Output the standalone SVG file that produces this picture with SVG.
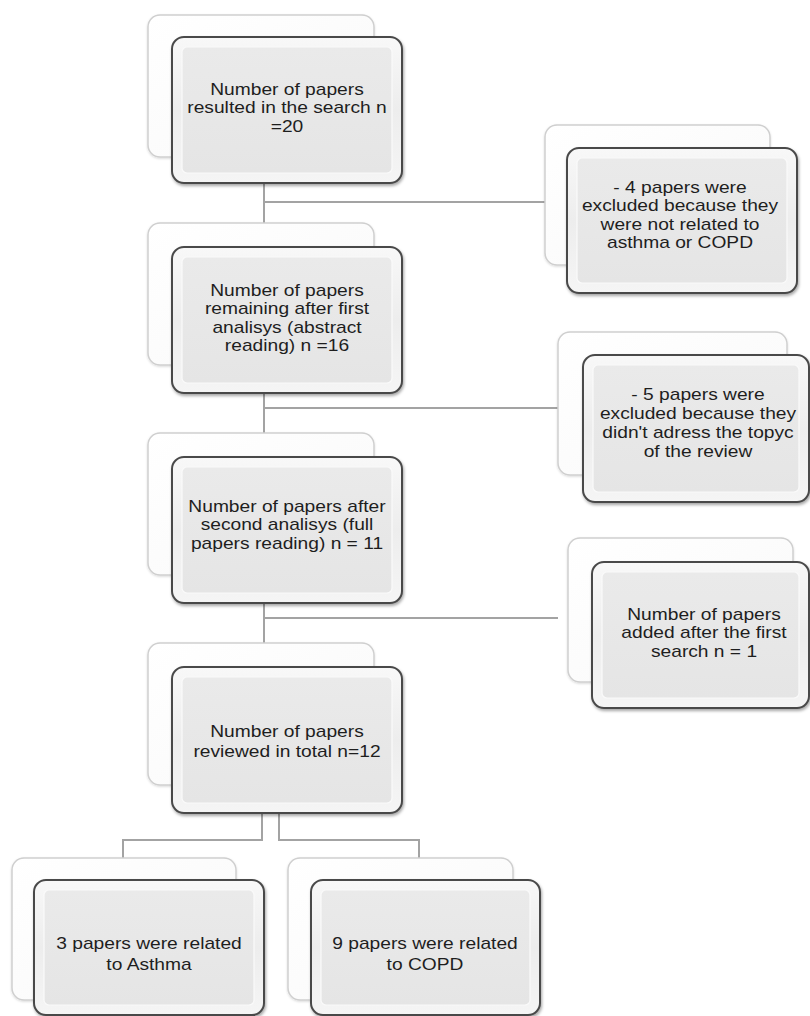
<svg xmlns="http://www.w3.org/2000/svg" width="810" height="1016" viewBox="0 0 810 1016">
<defs>
<linearGradient id="gBack" x1="0" y1="0" x2="1" y2="1">
<stop offset="0" stop-color="#ffffff"/>
<stop offset="0.6" stop-color="#fbfbfb"/>
<stop offset="1" stop-color="#e9e9e9"/>
</linearGradient>
<linearGradient id="gFront" x1="0" y1="0" x2="0" y2="1">
<stop offset="0" stop-color="#f8f8f8"/>
<stop offset="0.5" stop-color="#ededed"/>
<stop offset="1" stop-color="#f5f5f5"/>
</linearGradient>
<linearGradient id="gInner" x1="0" y1="0" x2="0" y2="1">
<stop offset="0" stop-color="#eaeaea"/>
<stop offset="1" stop-color="#e5e5e5"/>
</linearGradient>
<filter id="sh" x="-10%" y="-10%" width="120%" height="125%">
<feDropShadow dx="1" dy="2" stdDeviation="1.5" flood-color="#000" flood-opacity="0.35"/>
</filter>
<filter id="shb" x="-10%" y="-10%" width="120%" height="125%">
<feDropShadow dx="0" dy="1" stdDeviation="1" flood-color="#000" flood-opacity="0.15"/>
</filter>
</defs>
<style>
.back{fill:url(#gBack);stroke:#cfcfcf;stroke-width:1.5;filter:url(#shb)}
.front{fill:url(#gFront);stroke:#4a4a4a;stroke-width:2;filter:url(#sh)}
.inner{fill:url(#gInner);stroke:#fafafa;stroke-width:1.2}
.t{font-family:"Liberation Sans",Arial,sans-serif;font-size:16px;fill:#1e1e1e;text-anchor:middle}
.c{fill:none;stroke:#a3a3a3;stroke-width:2}
</style>
<rect width="810" height="1016" fill="#ffffff"/>
<g id="connectors">
<path class="c" d="M264 183 V223 M264 202 H545"/>
<path class="c" d="M264 393 V433 M264 408 H558"/>
<path class="c" d="M264 603 V643 M264 618 H558"/>
<path class="c" d="M262 813 V840 H123 V858"/>
<path class="c" d="M279 813 V840 H419 V858"/>
</g>
<g id="n1">
<rect class="back" x="148" y="15" width="226" height="142" rx="12"/>
<rect class="front" x="172" y="37" width="230" height="146" rx="12"/>
<rect class="inner" x="182" y="47" width="210" height="126" rx="5"/>
<text class="t" transform="translate(287 0) scale(1.2 1)"><tspan x="0" y="95">Number of papers</tspan><tspan x="0" y="113.5">resulted in the search n</tspan><tspan x="0" y="132">=20</tspan></text>
</g>
<g id="r1">
<rect class="back" x="545" y="125" width="225" height="140" rx="12"/>
<rect class="front" x="567" y="148" width="230" height="145" rx="12"/>
<rect class="inner" x="577" y="158" width="210" height="125" rx="5"/>
<text class="t" transform="translate(680 0) scale(1.2 1)"><tspan x="0" y="193">- 4 papers were</tspan><tspan x="0" y="211.5">excluded because they</tspan><tspan x="0" y="230">were not related to</tspan><tspan x="0" y="248.5">asthma or COPD</tspan></text>
</g>
<g id="n2">
<rect class="back" x="148" y="223" width="226" height="142" rx="12"/>
<rect class="front" x="172" y="247" width="230" height="146" rx="12"/>
<rect class="inner" x="182" y="257" width="210" height="126" rx="5"/>
<text class="t" transform="translate(287 0) scale(1.2 1)"><tspan x="0" y="296">Number of papers</tspan><tspan x="0" y="314.5">remaining after first</tspan><tspan x="0" y="333">analisys (abstract</tspan><tspan x="0" y="351.5">reading) n =16</tspan></text>
</g>
<g id="r2">
<rect class="back" x="558" y="332" width="229" height="143" rx="12"/>
<rect class="front" x="583" y="355" width="226" height="147" rx="12"/>
<rect class="inner" x="593" y="365" width="206" height="127" rx="5"/>
<text class="t" transform="translate(698 0) scale(1.2 1)"><tspan x="0" y="400">- 5 papers were</tspan><tspan x="0" y="419">excluded because they</tspan><tspan x="0" y="438">didn't adress the topyc</tspan><tspan x="0" y="457">of the review</tspan></text>
</g>
<g id="n3">
<rect class="back" x="148" y="433" width="226" height="142" rx="12"/>
<rect class="front" x="172" y="457" width="230" height="146" rx="12"/>
<rect class="inner" x="182" y="467" width="210" height="126" rx="5"/>
<text class="t" transform="translate(287 0) scale(1.2 1)"><tspan x="0" y="512">Number of papers after</tspan><tspan x="0" y="530.5">second analisys (full</tspan><tspan x="0" y="549">papers reading) n = 11</tspan></text>
</g>
<g id="r3">
<rect class="back" x="568" y="538" width="225" height="144" rx="12"/>
<rect class="front" x="592" y="562" width="217" height="146" rx="12"/>
<rect class="inner" x="602" y="572" width="197" height="126" rx="5"/>
<text class="t" transform="translate(704 0) scale(1.2 1)"><tspan x="0" y="620">Number of papers</tspan><tspan x="0" y="638.5">added after the first</tspan><tspan x="0" y="657">search n = 1</tspan></text>
</g>
<g id="n4">
<rect class="back" x="148" y="643" width="226" height="142" rx="12"/>
<rect class="front" x="172" y="667" width="230" height="146" rx="12"/>
<rect class="inner" x="182" y="677" width="210" height="126" rx="5"/>
<text class="t" transform="translate(287 0) scale(1.2 1)"><tspan x="0" y="737">Number of papers</tspan><tspan x="0" y="757">reviewed in total n=12</tspan></text>
</g>
<g id="b1">
<rect class="back" x="12" y="858" width="224" height="142" rx="12"/>
<rect class="front" x="34" y="880" width="230" height="135" rx="12"/>
<rect class="inner" x="44" y="890" width="210" height="115" rx="5"/>
<text class="t" transform="translate(149 0) scale(1.2 1)"><tspan x="0" y="949">3 papers were related</tspan><tspan x="0" y="970">to Asthma</tspan></text>
</g>
<g id="b2">
<rect class="back" x="288" y="858" width="225" height="142" rx="12"/>
<rect class="front" x="311" y="880" width="229" height="135" rx="12"/>
<rect class="inner" x="321" y="890" width="209" height="115" rx="5"/>
<text class="t" transform="translate(425 0) scale(1.2 1)"><tspan x="0" y="949">9 papers were related</tspan><tspan x="0" y="970">to COPD</tspan></text>
</g>
</svg>
